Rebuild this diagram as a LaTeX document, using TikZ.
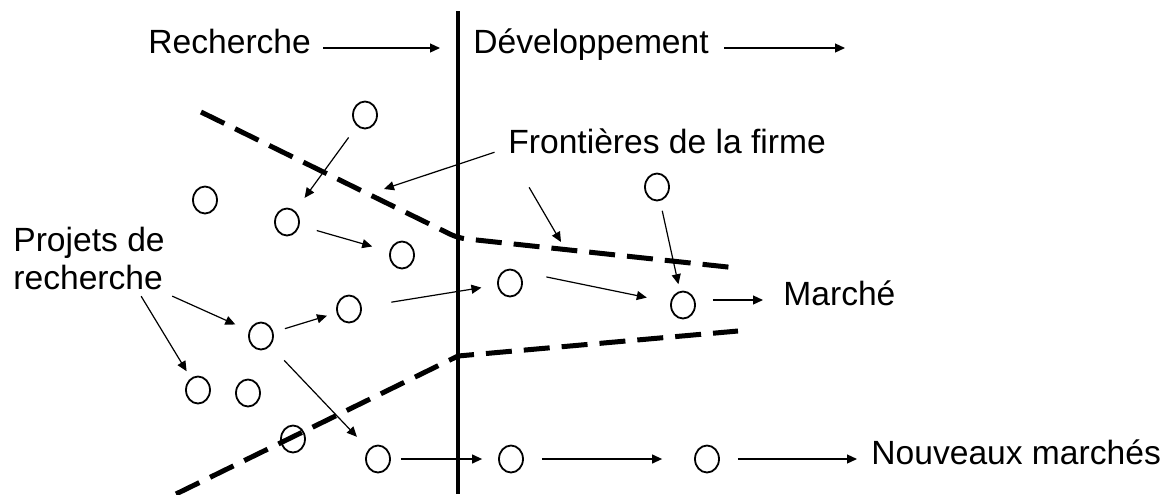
\documentclass[tikz,border=0pt]{standalone}
\usepackage{fontspec}
\setmainfont{Liberation Sans}
\usetikzlibrary{shapes,arrows.meta}
\tikzstyle{Bubble} = [draw, ellipse, line width=0.9pt, minimum width=12pt, minimum height=13.5pt, inner sep=0pt]
\tikzstyle{Tag} = [inner sep=2pt, font=\fontsize{16.8}{19}\selectfont]
\tikzstyle{Link} = [-{Triangle[length=5pt,width=4.5pt]}, line width=0.6pt]
\tikzstyle{Border} = [line width=2.5pt, dash pattern=on 13pt off 6pt]
\begin{document}
\begin{tikzpicture}[x=0.5pt, y=-0.5pt]
    \useasboundingbox (0,0) rectangle (1174,494);
    \node[Tag, anchor=mid west] (rech)   at (144,48)  {Recherche};
    \node[Tag, anchor=mid west] (dev)    at (469,48)  {Développement};
    \node[Tag, anchor=mid west] (front)  at (504,148) {Frontières de la firme};
    \node[Tag, anchor=mid west] (marche) at (779,300) {Marché};
    \node[Tag, anchor=mid west] (nouv)   at (867,459) {Nouveaux marchés};
    \node[Tag, anchor=north west, align=left] (proj) at (9,223) {Projets de\\recherche};
    \node[Bubble] (a) at (365,115) {};
    \node[Bubble] (b) at (205,200) {};
    \node[Bubble] (c) at (287,222) {};
    \node[Bubble] (d) at (402,255) {};
    \node[Bubble] (e) at (349,309) {};
    \node[Bubble] (f) at (261,336) {};
    \node[Bubble] (g) at (198,390) {};
    \node[Bubble] (h) at (248,393) {};
    \node[Bubble] (i) at (293,439) {};
    \node[Bubble] (j) at (378,459) {};
    \node[Bubble] (k) at (510,283) {};
    \node[Bubble] (l) at (657,187) {};
    \node[Bubble] (m) at (683,305) {};
    \node[Bubble] (n) at (511,459) {};
    \node[Bubble] (o) at (707,459) {};
    \coordinate (divtop) at (458,11);
    \coordinate (divbot) at (458,494);
    \coordinate (rechend) at (440,48);
    \coordinate (devend)  at (845,48);
    \coordinate (ftip1) at (384,189);
    \coordinate (ftip2) at (561,242);
    \coordinate (ul) at (201,112);
    \coordinate (uk) at (458,238);
    \coordinate (ur) at (737,268);
    \coordinate (ll) at (176,494);
    \coordinate (lk) at (458,356);
    \coordinate (lr) at (738,331);
    \draw[line width=2pt] (divtop) -- (divbot);
    \draw[Border, rounded corners=4pt] (ul) -- (uk) -- (ur);
    \draw[Border] (ll) -- (lk) -- (lr);
    \draw[Link, shorten <=4pt]   (rech.mid east) -- (rechend);
    \draw[Link, shorten <=5.5pt] (dev.mid east) -- (devend);
    \draw[Link, shorten <=5pt]   ([yshift=-4pt]front.west) -- (ftip1);
    \draw[Link, shorten <=17pt]  ([xshift=4pt]front.south west) -- (ftip2);
    \draw[Link, shorten <=7pt, shorten >=8pt]    (a) -- (c);
    \draw[Link, shorten <=9pt, shorten >=9pt]    (c) -- (d);
    \draw[Link, shorten <=2pt, shorten >=7.5pt]  (proj) -- (f);
    \draw[Link, shorten <=1pt, shorten >=4pt]    (proj.-35) -- (g);
    \draw[Link, shorten <=6pt, shorten >=5pt]    (f) -- (e);
    \draw[Link, shorten <=15pt, shorten >=8pt]   (e) -- (k);
    \draw[Link, shorten <=10pt, shorten >=8.5pt] (f) -- (j);
    \draw[Link, shorten <=15pt, shorten >=12pt]  (k.60) -- (m);
    \draw[Link, shorten <=5pt, shorten >=3.5pt]  (l) -- (m);
    \draw[Link, shorten <=8.5pt, shorten >=8pt]  (m.east |- marche.mid west) -- (marche.mid west);
    \draw[Link, shorten <=5pt, shorten >=8pt]    (j) -- (n);
    \draw[Link, shorten <=9pt, shorten >=16pt]   (n) -- (o);
    \draw[Link, shorten <=9pt, shorten >=5pt]    (o) -- (nouv.mid west);
\end{tikzpicture}
\end{document}
